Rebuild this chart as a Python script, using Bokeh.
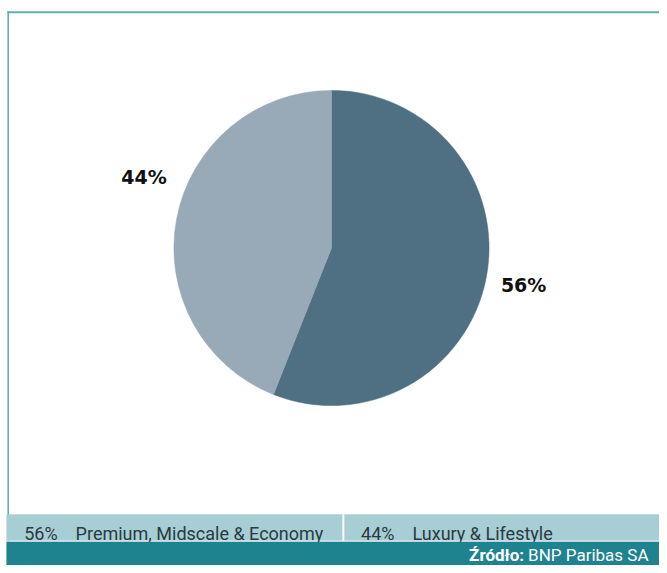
import math
from bokeh.plotting import figure
from bokeh.models import Range1d, ColumnDataSource
from bokeh.core.properties import value
from bokeh.embed import file_html
from bokeh.resources import INLINE

# ---- data ----
categories = ["Premium, Midscale & Economy", "Luxury & Lifestyle"]
shares = [56, 44]
slice_colors = ["#4F7083", "#98AAB7"]
source_label = "Źródło:"
source_text = "BNP Paribas SA"

# ---- layout ----
W, H = 659, 565
RW, RH = 667, 573
FONT = "Roboto"
label_nudge_deg = [0, 10]    # angular nudge of the outside labels
label_dist = [198, 203]      # distance of label centres from pie centre (ref px)

def X(rx):
    return rx * W / RW

def Y(ry):
    return (RH - ry) * H / RH

p = figure(width=W, height=H, x_range=Range1d(0, W), y_range=Range1d(0, H),
           output_backend="svg", toolbar_location=None, min_border=0,
           outline_line_color=None, background_fill_color="white",
           border_fill_color="white")
p.axis.visible = False
p.grid.visible = False

# frame decorations
p.quad(left=X(7), right=W, top=Y(11), bottom=Y(13), fill_color="#5FAEB5", line_color=None)
p.quad(left=X(7), right=X(8.6), top=Y(11), bottom=Y(549), fill_color="#5FAEB5", line_color=None)

# pie (clockwise from 12 o'clock)
total = sum(shares)
starts, ends = [], []
angle = math.pi / 2
for s in shares:
    sweep = 2 * math.pi * s / total
    starts.append(angle - sweep)
    ends.append(angle)
    angle -= sweep

cx, cy, r = X(335), Y(251), X(159.5)
src = ColumnDataSource(dict(start=starts, end=ends, color=slice_colors))
p.wedge(x=cx, y=cy, radius=r, start_angle="start", end_angle="end",
        fill_color="color", line_color="color", line_width=0.5, source=src)

# percentage labels outside the slices
lab_x, lab_y, lab_t = [], [], []
for s0, e0, v, nd, d in zip(starts, ends, shares, label_nudge_deg, label_dist):
    mid = (s0 + e0) / 2 - math.radians(nd)
    lab_x.append(cx + X(d) * math.cos(mid))
    lab_y.append(cy + X(d) * math.sin(mid))
    lab_t.append(f"{v}%")
p.text(x=lab_x, y=lab_y, text=lab_t, text_font=value("DejaVu Sans"), text_font_style="bold",
       text_font_size="19px", text_color="#111111", text_align="center",
       text_baseline="middle")

# legend strip
p.quad(left=X(6), right=W, top=Y(521), bottom=Y(548), fill_color="#A7CED5", line_color=None)
p.quad(left=X(346), right=X(348), top=Y(521), bottom=Y(548), fill_color="white", line_color=None)
p.quad(left=X(6), right=W, top=Y(548), bottom=Y(549), fill_color="#E8F2F3", line_color=None)

leg_pct_x = [X(24), X(365)]
leg_name_x = [X(76), X(417)]
p.text(x=leg_pct_x, y=[Y(541)] * 2, text=[f"{v}%" for v in shares],
       text_font=value(FONT), text_font_size="18px", text_color="#2B3A40",
       text_align="left", text_baseline="alphabetic")
p.text(x=leg_name_x, y=[Y(541)] * 2, text=categories,
       text_font=value(FONT), text_font_size="18px", text_color="#2B3A40",
       text_align="left", text_baseline="alphabetic")

# source bar
p.quad(left=X(6), right=W, top=Y(549), bottom=0, fill_color="#1E838F", line_color=None)
p.text(x=[X(530)], y=[Y(562)], text=[source_label], text_font=value(FONT),
       text_font_style="bold", text_font_size="17px", text_color="white",
       text_align="right", text_baseline="middle")
p.text(x=[X(534)], y=[Y(562)], text=[source_text], text_font=value(FONT),
       text_font_size="17px", text_color="white",
       text_align="left", text_baseline="middle")

open("out.html", "w").write(file_html(p, INLINE))
